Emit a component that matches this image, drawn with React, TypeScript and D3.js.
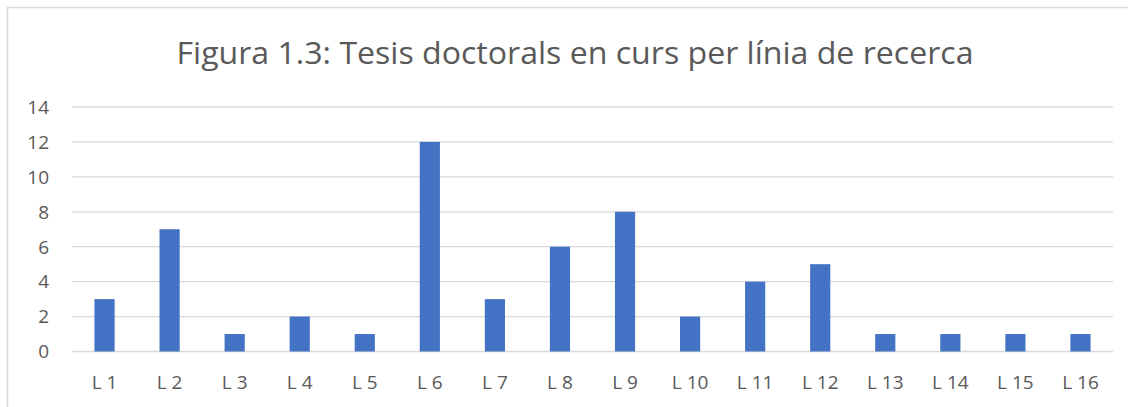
import React from "react";
import * as d3 from "d3";

const categories = ["L 1", "L 2", "L 3", "L 4", "L 5", "L 6", "L 7", "L 8", "L 9", "L 10", "L 11", "L 12", "L 13", "L 14", "L 15", "L 16"];
const values = [3, 7, 1, 2, 1, 12, 3, 6, 8, 2, 4, 5, 1, 1, 1, 1];
const yTicks = [0, 2, 4, 6, 8, 10, 12, 14];
const title = "Figura 1.3: Tesis doctorals en curs per línia de recerca";

const W = 1128;
const H = 407;
const left = 72;
const right = 1113;
const top = 107;
const bottom = 351.5;
const FONT = "'Open Sans', 'Noto Sans', sans-serif";
const TEXT = "#595959";
const GRID = "#d9d9d9";
const BAR = "#4472C4";

export default function App() {
  const x = d3.scaleBand<string>().domain(categories).range([left, right]).paddingInner(0.69).paddingOuter(0.345);
  const y = d3.scaleLinear().domain([0, 14]).range([bottom, top]);
  const bw = x.bandwidth();

  return (
    <div style={{ position: "fixed", left: 0, top: 0, width: W, height: H, background: "#fff" }}>
      <svg width={W} height={H} style={{ display: "block" }}>
        <rect x={0} y={0} width={W} height={H} fill="#fff" />
        <rect x={7.5} y={7.5} width={W + 20} height={H + 20} fill="none" stroke={GRID} strokeWidth={1.5} />
        <text
          x={575}
          y={63.5}
          textAnchor="middle"
          fontFamily={FONT}
          fontSize={31}
          fill={TEXT}
          textLength={797}
          lengthAdjust="spacingAndGlyphs"
        >
          {title}
        </text>
        {yTicks.map((t) => (
          <g key={t}>
            <line x1={left} x2={right} y1={y(t)} y2={y(t)} stroke={GRID} strokeWidth={1.3} />
            <text x={49} y={y(t)} dy="0.36em" textAnchor="end" fontFamily={FONT} fontSize={19} fill={TEXT}>
              {t}
            </text>
          </g>
        ))}
        {categories.map((c, i) => (
          <g key={c}>
            <rect x={x(c)} y={y(values[i])} width={bw} height={y(0) - y(values[i])} fill={BAR} />
            <text x={(x(c) ?? 0) + bw / 2} y={389} textAnchor="middle" fontFamily={FONT} fontSize={19} fill={TEXT}>
              {c}
            </text>
          </g>
        ))}
      </svg>
    </div>
  );
}
